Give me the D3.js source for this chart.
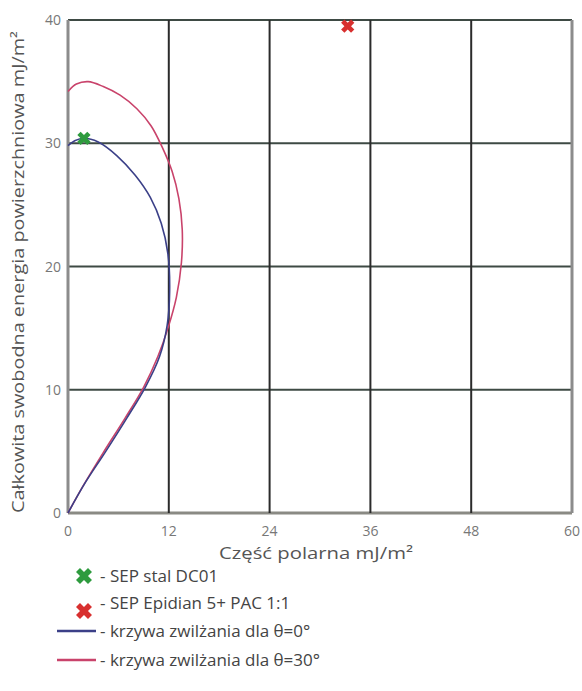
<!DOCTYPE html>
<html>
<head>
<meta charset="utf-8">
<script src="https://cdn.jsdelivr.net/npm/d3@7"></script>
<style>
  body { margin: 0; background: #fff; }
  text { font-family: "Open Sans", sans-serif; }
</style>
</head>
<body>
<div id="chart"></div>
<script>
// dimensions
var W = 582, H = 691
var margin = {top: 20, right: 10, bottom: 178, left: 68}

// data (x = czesc polarna, y = calkowita SEP)
var xTicks = [0, 12, 24, 36, 48, 60]
var yTicks = [0, 10, 20, 30, 40]

var curve0 = [[0,0],[2,2.4],[4.4,4.9],[7,7.7],[9.2,10.2],[10.9,12.7],[11.8,15.2],[12.1,18],
  [11.9,21],[11.1,23.5],[9.8,25.6],[8,27.4],[5.8,29],[3.6,30.1],[1.9,30.4],[0.8,30.2],[0,29.8]]
var curve30 = [[0,0],[1.8,2.2],[4.2,4.9],[6.8,7.7],[9.0,10.2],[10.7,12.7],[11.9,15.0],[12.9,17.5],
  [13.5,20.3],[13.6,23],[13.2,25.5],[12.4,27.7],[11.2,29.7],[9.9,31.4],[8.2,32.8],[6.2,33.9],
  [4.2,34.6],[2.4,35.0],[1.0,34.8],[0,34.2]]
var points = [
  {name: "SEP stal DC01", x: 1.9, y: 30.4, colour: "#2e9b3e"},
  {name: "SEP Epidian 5+ PAC 1:1", x: 33.3, y: 39.5, colour: "#d8302f"}
]
var legendItems = [
  {label: "- SEP stal DC01", type: "x", colour: "#2e9b3e"},
  {label: "- SEP Epidian 5+ PAC 1:1", type: "x", colour: "#d8302f"},
  {label: "- krzywa zwilżania dla θ=0°", type: "line", colour: "#3b4088"},
  {label: "- krzywa zwilżania dla θ=30°", type: "line", colour: "#c9436b"}
]

var svg = d3.select("#chart").append("svg")
  .attr("width", W).attr("height", H)
svg.append("rect").attr("width", W).attr("height", H).attr("fill", "#fff")

var x = d3.scaleLinear().domain([0, 60]).range([margin.left, W - margin.right])
var y = d3.scaleLinear().domain([0, 40]).range([H - margin.bottom, margin.top])

// grid - horizontal lines greenish grey, verticals dark
svg.append("g").selectAll("line").data(yTicks).enter().append("line")
  .attr("x1", x(0)).attr("x2", x(60))
  .attr("y1", function(d){return y(d)}).attr("y2", function(d){return y(d)})
  .attr("stroke", function(d){return d==0 ? "#8a8a84" : "#3e4a44"})
  .attr("stroke-width", function(d){return d==0 ? 3 : 2})

svg.append("g").selectAll("line").data(xTicks).enter().append("line")
  .attr("y1", y(0)).attr("y2", y(40))
  .attr("x1", function(d){return x(d)}).attr("x2", function(d){return x(d)})
  .attr("stroke", function(d){return (d==0||d==60) ? "#8c8c8c" : "#2b2b2b"})
  .attr("stroke-width", function(d){return (d==0||d==60) ? 3 : 2})

// tick labels
svg.append("g").selectAll("text").data(yTicks).enter().append("text")
  .attr("x", x(0) - 7).attr("y", function(d){return y(d) + 5})
  .attr("text-anchor", "end").attr("font-size", 14).attr("fill", "#777")
  .text(function(d){return d})

svg.append("g").selectAll("text").data(xTicks).enter().append("text")
  .attr("x", function(d){return x(d)}).attr("y", y(0) + 23)
  .attr("text-anchor", "middle").attr("font-size", 14).attr("fill", "#777")
  .text(function(d){return d})

// axis titles
svg.append("text")
  .attr("x", 316).attr("y", 559)
  .attr("text-anchor", "middle").attr("font-size", 17).attr("fill", "#555")
  .attr("textLength", 194).attr("lengthAdjust", "spacingAndGlyphs")
  .text("Część polarna mJ/m²")

svg.append("text")
  .attr("transform", "translate(24," + 272 + ") rotate(-90)")
  .attr("text-anchor", "middle").attr("font-size", 16).attr("fill", "#555")
  .attr("textLength", 482).attr("lengthAdjust", "spacingAndGlyphs")
  .text("Całkowita swobodna energia powierzchniowa mJ/m²")

// curves
var line = d3.line()
  .x(function(d){return x(d[0])})
  .y(function(d){return y(d[1])})
  .curve(d3.curveCatmullRom.alpha(0.5))

svg.append("path").datum(curve30)
  .attr("d", line).attr("fill", "none")
  .attr("stroke", "#c9436b").attr("stroke-width", 1.6)
svg.append("path").datum(curve0)
  .attr("d", line).attr("fill", "none")
  .attr("stroke", "#3b4088").attr("stroke-width", 1.6)

// x markers
var cross = d3.symbol().type(d3.symbolCross).size(110)
svg.append("g").selectAll("path").data(points).enter().append("path")
  .attr("d", cross)
  .attr("transform", function(d){return "translate(" + x(d.x) + "," + y(d.y) + ") rotate(45)"})
  .attr("fill", function(d){return d.colour})

// legend
var legY = [576, 603, 631, 660]
var leg = svg.append("g").selectAll("g").data(legendItems).enter().append("g")
  .attr("transform", function(d, i){return "translate(0," + legY[i] + ")"})

leg.filter(function(d){return d.type=="x"}).append("path")
  .attr("d", d3.symbol().type(d3.symbolCross).size(160))
  .attr("transform", function(d, i){return "translate(84," + (i==1 ? 8 : 0) + ") rotate(45)"})
  .attr("fill", function(d){return d.colour})

leg.filter(function(d){return d.type=="line"}).append("line")
  .attr("x1", 57).attr("x2", 96).attr("y1", 0).attr("y2", 0)
  .attr("stroke", function(d){return d.colour}).attr("stroke-width", 2.5)

leg.append("text")
  .attr("x", 100).attr("y", 6)
  .attr("font-size", 17).attr("fill", "#444")
  .text(function(d){return d.label})
</script>
</body>
</html>
